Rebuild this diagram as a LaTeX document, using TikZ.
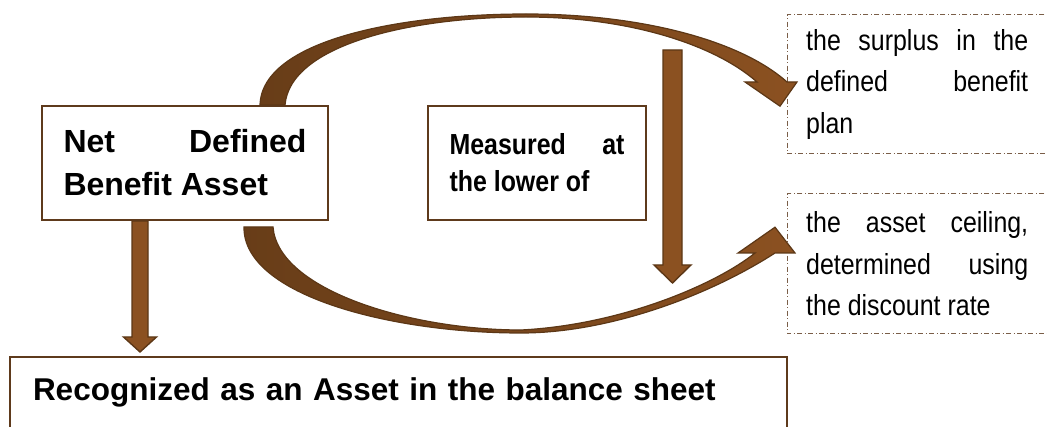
\documentclass[tikz,border=0pt]{standalone}
\usepackage{fontspec}
\setmainfont{Liberation Sans}
\newfontfamily\narrowfont[FakeStretch=0.86]{Liberation Sans}
\usepackage{xcolor}
\usepackage{tikz}
\usetikzlibrary{calc}

\definecolor{boxbrown}{RGB}{94,58,28}
\definecolor{notegray}{RGB}{122,94,72}
\definecolor{arrowbrown}{RGB}{139,81,33}
\definecolor{arrowdark}{RGB}{104,61,24}
\definecolor{arrowedge}{RGB}{92,55,22}

\tikzset{
    textbox/.style={rectangle, draw=boxbrown, line width=2pt, inner ysep=0pt},
    notebox/.style={draw=notegray, line width=1pt, dash pattern=on 5pt off 2.5pt on 1pt off 2.5pt},
    blockarrow/.style={fill=arrowbrown, draw=arrowedge, line width=1.4pt, line join=miter},
    curvearrow/.style={left color=arrowdark, right color=arrowbrown, draw=arrowedge, line width=1.2pt, line join=miter},
}

\begin{document}
\begin{tikzpicture}[x=1pt, y=-1pt]

        \useasboundingbox (0,0) rectangle (1047,427);

        %% Boxes
        \node (net) [textbox, anchor=north west, inner xsep=21.5pt, minimum height=114pt, font=\bfseries\fontsize{32}{43}\selectfont] at (41,105) {\parbox{243pt}{\hyphenpenalty=10000 Net Defined Benefit Asset}};
        \node (lower) [textbox, anchor=north west, inner xsep=21.5pt, minimum height=114pt, font=\narrowfont\bfseries\fontsize{29}{37}\selectfont] at (427,105) {\parbox{175pt}{\hyphenpenalty=10000 Measured at the lower of}};
        \node (recognized) [textbox, anchor=north west, text width=731pt, inner xsep=23pt, text height=44pt, text depth=50pt, align=left, font=\bfseries\fontsize{31.5}{37}\selectfont] at (9,356) {Recognized as an Asset in the balance sheet};

        %% Limits
        \node (surplus) [anchor=north west, inner xsep=19pt, inner ysep=0pt, minimum height=138pt, font=\narrowfont\fontsize{29}{41.5}\selectfont] at (787,15) {\parbox{222pt}{\hyphenpenalty=10000 the surplus in the defined benefit\linebreak plan}};
        \draw [notebox] ($(surplus.north east)+(30,0)$) -- (surplus.north west) -- (surplus.south west) -- ($(surplus.south east)+(30,0)$);

        \node (ceiling) [anchor=north west, inner xsep=19pt, inner ysep=0pt, minimum height=139pt, font=\narrowfont\fontsize{29}{41.5}\selectfont] at (787,194) {\parbox{222pt}{\hyphenpenalty=10000 the asset ceiling, determined using the discount rate}};
        \draw [notebox] ($(ceiling.north east)+(30,0)$) -- (ceiling.north west) -- (ceiling.south west) -- ($(ceiling.south east)+(30,0)$);

        %% Straight arrows
        \coordinate (dtop) at ($(net.south west)+(99,0)$);
        \coordinate (dtip) at ($(dtop |- recognized.north)+(0,-4)$);
        \draw [blockarrow] ($(dtop)+(-8,0)$) -- ($(dtip)+(-8,-15)$) -- ($(dtip)+(-16.5,-15)$) -- (dtip) -- ($(dtip)+(16.5,-15)$) -- ($(dtip)+(8,-15)$) -- ($(dtop)+(8,0)$) -- cycle;

        \coordinate (mtop) at (672.5,50);
        \coordinate (mtip) at (672.5,283);
        \draw [blockarrow] ($(mtop)+(-9.5,0)$) -- ($(mtip)+(-9.5,-18)$) -- ($(mtip)+(-18.5,-18)$) -- (mtip) -- ($(mtip)+(18.5,-18)$) -- ($(mtip)+(9.5,-18)$) -- ($(mtop)+(9.5,0)$) -- cycle;

        %% Curved arrows
        \coordinate (ua) at ($(net.north west)+(219,0)$);
        \coordinate (ub) at ($(net.north west)+(244,0)$);
        \coordinate (utip) at ($(surplus.west)+(-7,22)$);
        \draw [curvearrow] (ua) .. controls (262,40) and (400,14) .. (526,14) .. controls (640,14) and (740,40) .. (787,82) -- (797,82) -- (utip) -- (745,82) -- (757,82) .. controls (715,45) and (630,17) .. (526,17) .. controls (410,17) and (290,45) .. (ub) -- cycle;

        \coordinate (la) at ($(net.south west)+(203,6)$);
        \coordinate (lb) at ($(net.south west)+(232,6)$);
        \coordinate (ltip) at ($(ceiling.west)+(-12,-36.5)$);
        \draw [curvearrow] (la) .. controls (243,295) and (390,333) .. (521,333) .. controls (610,333) and (710,295) .. (775,253) -- (795,253) -- (ltip) -- (738,253) -- (755,253) .. controls (715,285) and (620,325) .. (521,330) .. controls (410,330) and (278,290) .. (lb) -- cycle;

\end{tikzpicture}
\end{document}
